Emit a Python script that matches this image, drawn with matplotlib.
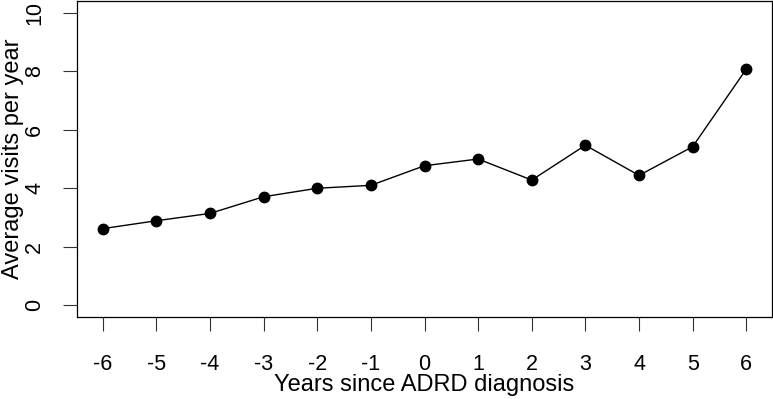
import matplotlib
matplotlib.use("Agg")
import matplotlib.pyplot as plt

plt.rcParams['font.family'] = ['Liberation Sans', 'DejaVu Sans']

# years relative to diagnosis and the average visits
years = [-6, -5, -4, -3, -2, -1, 0, 1, 2, 3, 4, 5, 6]
visits = [2.62, 2.89, 3.14, 3.71, 4.00, 4.10, 4.77, 5.00, 4.28, 5.47, 4.44, 5.42, 8.07]
yticks = [0, 2, 4, 6, 8, 10]

fig = plt.figure(figsize=(7.73, 3.99), dpi=100)
ax = fig.add_axes([77 / 773, (399 - 317) / 399, 695 / 773, 316 / 399])

ax.plot(years, visits, color='black', lw=1.0, marker='o', ms=7.5)

ax.set_xlim(-6.48, 6.48)
ax.set_ylim(-0.4, 10.4)
ax.set_xticks(years)
ax.set_xticklabels([str(y) for y in years])
ax.set_yticks(yticks)
ax.set_yticklabels([str(y) for y in yticks], rotation=90, va='center')

ax.tick_params(axis='both', direction='out', length=10, width=0.8, labelsize=15.5, color='#333333')
ax.tick_params(axis='x', pad=17)
ax.tick_params(axis='y', pad=13)

# R-style box round the plot
for s in ax.spines.values():
    s.set_linewidth(0.9)

ax.set_xlabel('Years since ADRD diagnosis', fontsize=17, labelpad=-1)
ax.set_ylabel('Average visits per year', fontsize=17, labelpad=0)

fig.savefig('out.png', dpi=100)
